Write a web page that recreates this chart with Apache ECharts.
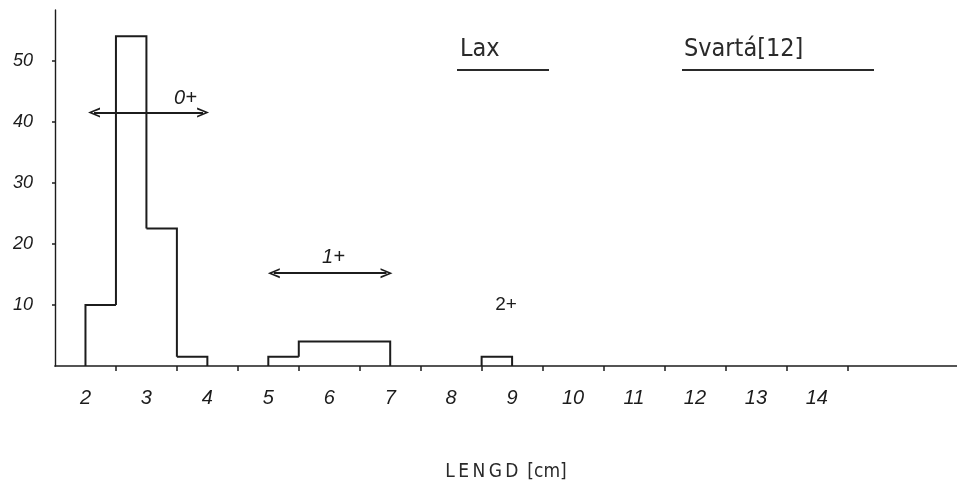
<!DOCTYPE html>
<html>
<head>
<meta charset="utf-8">
<script src="https://cdn.jsdelivr.net/npm/echarts@6/dist/echarts.min.js"></script>
<style>html,body{margin:0;padding:0;background:#fff}#c{width:957px;height:504px}</style>
</head>
<body>
<div id="c"></div>
<script>
// Histogram bins (cm) and counts
const binStart = [2.0, 2.5, 3.0, 3.5, 5.0, 5.5, 8.5];
const binEnd   = [2.5, 3.0, 3.5, 4.0, 5.5, 7.0, 9.0];
const counts   = [10, 54, 22.5, 1.5, 1.5, 4, 1.5];

// Axis ticks / labels
const xLabels = [2, 3, 4, 5, 6, 7, 8, 9, 10, 11, 12, 13, 14];
const xTicks  = [2.5, 3.5, 4.5, 5.5, 6.5, 7.5, 8.5, 9.5, 10.5, 11.5, 12.5, 13.5, 14.5];
const yLabels = [10, 20, 30, 40, 50];

// Age-group ranges (arrow line ends) and their labels
const groupNames  = ['0+', '1+'];
const groupFrom   = [2.14, 5.09];
const groupTo     = [3.93, 6.94];
const groupLevel  = [41.5, 15.2];
const groupTextX  = [3.64, 6.07, 8.9];
const groupTextY  = [43.8, 17.8, 10];
const groupText   = ['0+', '1+', '2+'];
const groupItalic = [true, true, false];

const chart = echarts.init(document.getElementById('c'));
const ink = '#1c1c1c';

const bars = binStart.map((s, i) => {
  const prev = (i > 0 && binEnd[i - 1] === s) ? counts[i - 1] : 0;
  const next = (i < binStart.length - 1 && binStart[i + 1] === binEnd[i]) ? counts[i + 1] : 0;
  return [s, binEnd[i], counts[i], prev, next];
});

const chevron = 'path://M0,12 L6,0 L12,12 L9.8,12 L6,4 L2.2,12 Z';

chart.setOption({
  animation: false,
  backgroundColor: '#fff',
  grid: { left: 55, right: 0, top: 10, bottom: 138 },
  xAxis: {
    type: 'value', min: 1.5, max: 16.3,
    splitLine: { show: false },
    axisLine: { lineStyle: { color: ink, width: 1.7 } },
    axisTick: { customValues: xTicks, length: 5, lineStyle: { color: ink, width: 1.5 } },
    axisLabel: { customValues: xLabels, margin: 22, fontSize: 20, fontStyle: 'italic',
                 color: ink, fontFamily: "'Liberation Sans', sans-serif" },
    name: 'L\u2009E\u2009N\u2009G\u2009D\u2009 [cm]', nameLocation: 'middle', nameGap: 97,
    nameTextStyle: { fontSize: 19, color: '#2a2a2a', fontFamily: "'DejaVu Sans Condensed', 'DejaVu Sans', sans-serif" }
  },
  yAxis: {
    type: 'value', min: 0, max: 58.3,
    splitLine: { show: false },
    axisLine: { show: true, lineStyle: { color: ink, width: 1.4 } },
    axisTick: { show: true, customValues: yLabels, length: 3, lineStyle: { color: ink, width: 1.5 } },
    axisLabel: { customValues: yLabels, margin: 22, fontSize: 18, fontStyle: 'italic',
                 color: ink, fontFamily: "'Liberation Sans', sans-serif" }
  },
  graphic: [
    { type: 'text', left: 460, top: 37, style: { text: 'Lax', fontSize: 25, fill: '#2a2a2a',
      fontFamily: "'DejaVu Sans Condensed', 'DejaVu Sans', sans-serif" } },
    { type: 'line', shape: { x1: 457, y1: 70, x2: 549, y2: 70 }, style: { stroke: '#2a2a2a', lineWidth: 2 } },
    { type: 'text', left: 684, top: 37, style: { text: 'Svartá[12]', fontSize: 25, fill: '#2a2a2a',
      fontFamily: "'DejaVu Sans Condensed', 'DejaVu Sans', sans-serif" } },
    { type: 'line', shape: { x1: 682, y1: 70, x2: 874, y2: 70 }, style: { stroke: '#2a2a2a', lineWidth: 2 } }
  ],
  series: [
    {
      type: 'custom',
      data: bars,
      encode: { x: [0, 1], y: 2 },
      renderItem: function (params, api) {
        const x0 = api.value(0), x1 = api.value(1), v = api.value(2);
        const prev = api.value(3), next = api.value(4);
        const a = api.coord([x0, Math.min(v, prev)]);
        const b = api.coord([x0, v]);
        const c = api.coord([x1, v]);
        const d = api.coord([x1, Math.min(v, next)]);
        return { type: 'polyline',
          shape: { points: [a, b, c, d] },
          style: { fill: 'none', stroke: ink, lineWidth: 2 } };
      },
      markLine: {
        silent: true,
        symbol: [chevron, chevron], symbolSize: [10, 12],
        label: { show: false },
        lineStyle: { color: ink, width: 1.8, type: 'solid' },
        data: groupNames.map((n, i) => [
          { coord: [groupFrom[i], groupLevel[i]] },
          { coord: [groupTo[i], groupLevel[i]] }
        ])
      }
    },
    {
      type: 'scatter',
      symbolSize: 0,
      itemStyle: { opacity: 1 },
      data: groupText.map((t, i) => ({ value: [groupTextX[i], groupTextY[i], t],
        label: { fontStyle: groupItalic[i] ? 'italic' : 'normal', fontSize: groupItalic[i] ? 20 : 19 } })),
      label: { show: true, position: 'inside', formatter: p => p.value[2],
               color: ink, opacity: 1, fontFamily: "'Liberation Sans', sans-serif" }
    }
  ]
});
</script>
</body>
</html>
